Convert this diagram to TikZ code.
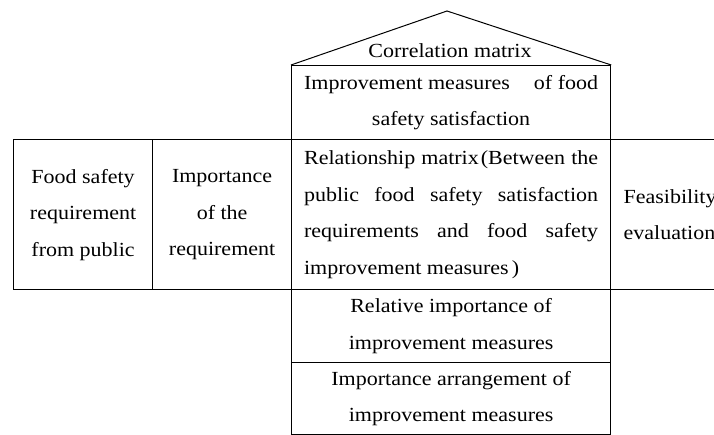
\documentclass[tikz,border=0pt]{standalone}
\usepackage{fontspec}
\setmainfont{Liberation Serif}[FakeStretch=1.1]
\begin{document}
\begin{tikzpicture}[x=1pt,y=-1pt,
  cell/.style={draw=black, line width=1.2pt, inner sep=0pt, align=center,
    anchor=north west, font=\fontsize{20}{36.5}\selectfont},
  roofline/.style={draw=black, line width=1pt, line join=miter},
  plain/.style={inner sep=0pt, font=\fontsize{20}{36.5}\selectfont}]
\useasboundingbox (0,0) rectangle (714,435);
\clip (0,0) rectangle (714,435);
% left boxes
\node[cell, minimum width=139pt, minimum height=150pt] (req) at (13,139)
  {Food safety\\requirement\\from public};
\node[cell, minimum width=139pt, minimum height=150pt] (imp) at (152,139)
  {Importance\\of the\\requirement};
% central column
\node[cell, minimum width=319pt, minimum height=74pt] (meas) at (291,65)
  {\makebox[294pt][l]{Improvement measures\hfill of food}\\safety satisfaction};
\node[cell, minimum width=319pt, minimum height=150pt] (rel) at (291,139)
  {\makebox[294pt][s]{Relationship matrix\hspace{0.1em}(Between the}\\
   \makebox[294pt][s]{public food safety satisfaction}\\
   \makebox[294pt][s]{requirements and food safety}\\
   \makebox[294pt][l]{improvement measures\hspace{0.15em})}};
\node[cell, minimum width=319pt, minimum height=73pt] (relimp) at (291,289)
  {Relative importance of\\improvement measures};
\node[cell, minimum width=319pt, minimum height=72pt] (arr) at (291,362)
  {Importance arrangement of\\improvement measures};
% right box
\node[cell, minimum height=150pt, text width=100pt, inner xsep=13pt, align=left] (feas) at (610,139)
  {Feasibility\\evaluation};
% roof
\coordinate (apex) at (447,11);
\draw[roofline] (meas.north west) -- (apex) -- (meas.north east);
\node[plain] (corr) at (450,51) {Correlation matrix};
\end{tikzpicture}
\end{document}
